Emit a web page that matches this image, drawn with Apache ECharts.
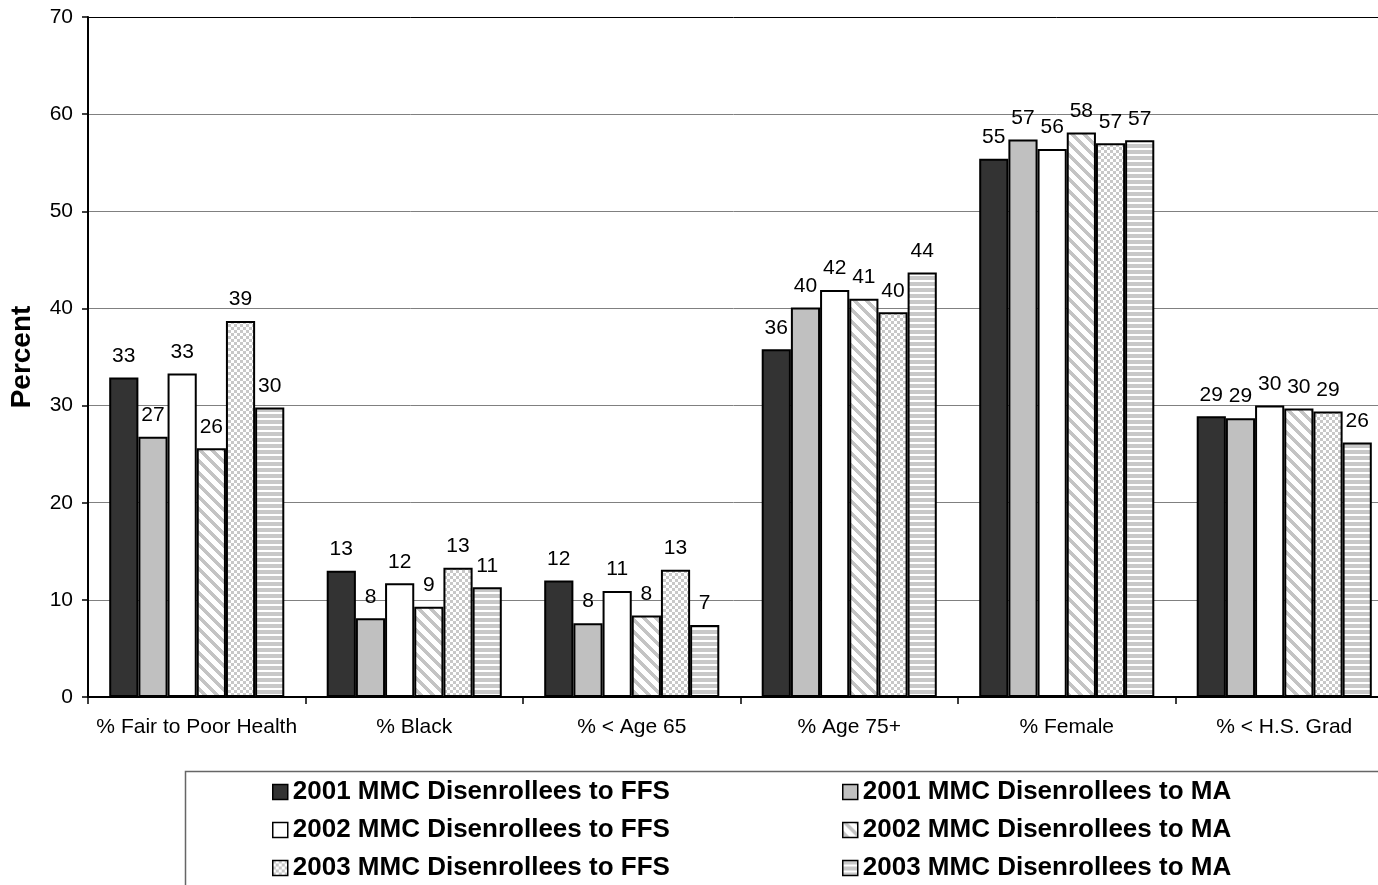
<!DOCTYPE html>
<html>
<head>
<meta charset="utf-8">
<script src="https://cdn.jsdelivr.net/npm/echarts@6/dist/echarts.min.js"></script>
<style>
  html, body { margin: 0; padding: 0; background: #fff; }
  #chart { width: 1378px; height: 885px; }
</style>
</head>
<body>
<div id="chart"></div>
<script>
// Characteristics of disenrollees, by year and destination (percent)
const categories = ['% Fair to Poor Health', '% Black', '% < Age 65', '% Age 75+', '% Female', '% < H.S. Grad'];
const seriesNames = [
  '2001 MMC Disenrollees to FFS',
  '2001 MMC Disenrollees to MA',
  '2002 MMC Disenrollees to FFS',
  '2002 MMC Disenrollees to MA',
  '2003 MMC Disenrollees to FFS',
  '2003 MMC Disenrollees to MA'
];
const ffs2001 = [32.9, 13.0, 12.0, 35.8, 55.4, 28.9];
const ma2001  = [26.8, 8.1, 7.6, 40.1, 57.4, 28.7];
const ffs2002 = [33.3, 11.7, 10.9, 41.9, 56.4, 30.0];
const ma2002  = [25.6, 9.3, 8.4, 41.0, 58.1, 29.7];
const ffs2003 = [38.7, 13.3, 13.1, 39.6, 57.0, 29.4];
const ma2003  = [29.8, 11.3, 7.4, 43.7, 57.3, 26.2];
const yMin = 0, yMax = 70, yStep = 10;

const FONT = '"Liberation Sans", Arial, sans-serif';

// Small tiled fills for the hatched bars
function makePattern(w, h, pick) {
  const c = document.createElement('canvas');
  c.width = w; c.height = h;
  const ctx = c.getContext('2d');
  for (let y = 0; y < h; y++) {
    for (let x = 0; x < w; x++) {
      ctx.fillStyle = pick(x, y);
      ctx.fillRect(x, y, 1, 1);
    }
  }
  return { image: c, repeat: 'repeat' };
}
const diagFill = makePattern(12, 12, (x, y) => (((x - y) % 12 + 12) % 12) < 5 ? '#c4c4c4' : '#ffffff');
const checkFill = makePattern(6, 6, (x, y) => ((Math.floor(x / 3) + Math.floor(y / 3)) % 2 === 0) ? '#c8c8c8' : '#ffffff');
const hstripeFill = makePattern(6, 6, (x, y) => (y % 6) < 4 ? '#c8c8c8' : '#ffffff');

const fills = ['#333333', '#c0c0c0', '#ffffff', diagFill, checkFill, hstripeFill];
const values = [ffs2001, ma2001, ffs2002, ma2002, ffs2003, ma2003];

const series = seriesNames.map((name, i) => ({
  name: name,
  type: 'bar',
  data: values[i],
  barGap: '0%',
  barCategoryGap: '19.5%',
  itemStyle: { color: fills[i], borderColor: '#000', borderWidth: 2 },
  label: {
    show: true,
    position: 'top',
    distance: 11,
    color: '#000',
    fontFamily: FONT,
    fontSize: 21,
    formatter: p => String(Math.round(p.value))
  },
  emphasis: { disabled: true }
}));

const gridColors = [];
for (let v = yMin; v <= yMax; v += yStep) gridColors.push(v === yMax ? '#000000' : '#808080');

const legendCommon = {
  orient: 'vertical',
  icon: 'rect',
  itemWidth: 15,
  itemHeight: 15,
  itemGap: 12,
  padding: 0,
  top: 779,
  selectedMode: false,
  itemStyle: { borderColor: '#000', borderWidth: 1.5 },
  textStyle: { fontFamily: FONT, fontSize: 26, fontWeight: 'bold', color: '#000' }
};

const chart = echarts.init(document.getElementById('chart'), null, { renderer: 'canvas' });
chart.setOption({
  backgroundColor: '#ffffff',
  animation: false,
  // the plot area runs a little past the right edge of the page
  grid: { left: 88, top: 17, width: 1305, height: 680, containLabel: false, outerBoundsMode: 'none' },
  xAxis: {
    type: 'category',
    data: categories,
    axisLine: { lineStyle: { color: '#000', width: 2 } },
    axisTick: { show: true, length: 7, lineStyle: { color: '#000', width: 1.5 } },
    axisLabel: { color: '#000', fontFamily: FONT, fontSize: 21, margin: 20, interval: 0 }
  },
  yAxis: {
    type: 'value',
    min: yMin,
    max: yMax,
    interval: yStep,
    name: 'Percent',
    nameLocation: 'middle',
    nameRotate: 90,
    nameGap: 52,
    nameTextStyle: { fontFamily: FONT, fontSize: 28, fontWeight: 'bold', color: '#000' },
    axisLine: { show: true, lineStyle: { color: '#000', width: 2 } },
    axisTick: { show: true, length: 6, lineStyle: { color: '#000', width: 1.5 } },
    axisLabel: { color: '#000', fontFamily: FONT, fontSize: 21, margin: 15 },
    splitLine: { show: true, lineStyle: { color: gridColors, width: 1 } }
  },
  legend: [
    Object.assign({}, legendCommon, { left: 272, data: [seriesNames[0], seriesNames[2], seriesNames[4]] }),
    Object.assign({}, legendCommon, { left: 842, data: [seriesNames[1], seriesNames[3], seriesNames[5]] })
  ],
  graphic: [{
    type: 'rect',
    left: 183,
    top: 769,
    shape: { width: 1300, height: 200 },
    style: { fill: 'none', stroke: '#666666', lineWidth: 1.5 },
    silent: true,
    z: -1
  }],
  series: series
});
</script>
</body>
</html>
